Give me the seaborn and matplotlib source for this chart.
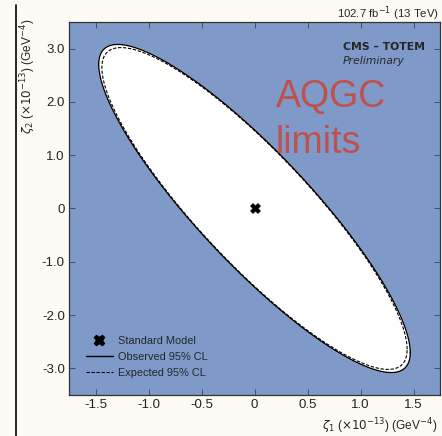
import numpy as np
import seaborn as sns
import matplotlib.pyplot as plt
from matplotlib.lines import Line2D

# contour extremes (units of 1e-13 GeV^-4)
obs_x_max = 1.47      # rightmost x of observed contour
obs_y_max = 3.08      # top y of observed contour
obs_x_at_top = -1.29  # x where observed contour is highest
exp_x_max = 1.44
exp_y_max = 3.02
exp_x_at_top = -1.26

sm_point = [0.0, 0.0]
x_ticks = [-1.5, -1.0, -0.5, 0.0, 0.5, 1.0, 1.5]
y_ticks = [-3.0, -2.0, -1.0, 0.0, 1.0, 2.0, 3.0]
x_tick_labels = ["-1.5", "-1.0", "-0.5", "0", "0.5", "1.0", "1.5"]
y_tick_labels = ["-3.0", "-2.0", "-1.0", "0", "1.0", "2.0", "3.0"]

BLUE = "#7f99c9"
CREAM = "#fdfbf3"
RED = "#c0504d"


def contour(x_max, y_max, x_top):
    # ellipse from its covariance-like matrix
    cov = np.array([[x_max ** 2, x_top * y_max], [x_top * y_max, y_max ** 2]])
    L = np.linalg.cholesky(cov)
    t = np.linspace(0, 2 * np.pi, 400)
    pts = L @ np.vstack([np.cos(t), np.sin(t)])
    return pts[0], pts[1]


sns.set_theme(style="white")
plt.rcParams["font.family"] = ["Liberation Sans", "DejaVu Sans"]
plt.rcParams["mathtext.fontset"] = "dejavusans"

fig = plt.figure(figsize=(4.42, 4.36), dpi=100, facecolor=CREAM)
ax = fig.add_axes([69 / 442, 1 - 395 / 436, 371 / 442, 373 / 436])
ax.set_facecolor(BLUE)

ox, oy = contour(obs_x_max, obs_y_max, obs_x_at_top)
ex, ey = contour(exp_x_max, exp_y_max, exp_x_at_top)

ax.fill(ox, oy, color="white", zorder=1)
sns.lineplot(x=ox, y=oy, sort=False, estimator=None, color="black", lw=1.0, ax=ax, zorder=3)
sns.lineplot(x=ex, y=ey, sort=False, estimator=None, color="black", lw=0.8,
             linestyle=(0, (3, 1.5)), ax=ax, zorder=3)
sns.scatterplot(x=[sm_point[0]], y=[sm_point[1]], marker="X", s=50, color="black",
                edgecolor="black", ax=ax, zorder=4)

ax.set_xlim(-1.75, 1.75)
ax.set_ylim(-3.5, 3.5)
ax.set_xticks(x_ticks)
ax.set_xticklabels(x_tick_labels)
ax.set_yticks(y_ticks)
ax.set_yticklabels(y_tick_labels)
ax.tick_params(direction="in", length=4, width=0.6, color="#444444", labelsize=9.5,
               labelcolor="#222222", top=True, right=True, bottom=True, left=True, pad=3)
for s in ax.spines.values():
    s.set_color("#333333")
    s.set_linewidth(0.9)
ax.set_xlabel("")
ax.set_ylabel("")

handles = [
    Line2D([], [], marker="X", color="black", ls="none", ms=7.5),
    Line2D([], [], color="black", lw=1.0),
    Line2D([], [], color="black", lw=0.8, ls=(0, (3, 1.5))),
]
ax.legend(handles, ["Standard Model", "Observed 95% CL", "Expected 95% CL"],
          loc="lower left", bbox_to_anchor=(0.02, 0.02), frameon=False,
          fontsize=7.9, handlelength=2.4, labelspacing=0.55, handletextpad=0.5)

ax.text((343 - 69) / 371, (395 - 50) / 373, "CMS \u2013 TOTEM",
        transform=ax.transAxes, fontsize=7.8, fontweight="bold",
        family="DejaVu Sans", va="baseline", ha="left")
ax.text((343 - 69) / 371, (395 - 64) / 373, "Preliminary", transform=ax.transAxes,
        fontsize=7.8, style="italic", family="DejaVu Sans", va="baseline", ha="left")
ax.text((276 - 69) / 371, (395 - 107) / 373, "AQGC", transform=ax.transAxes,
        fontsize=27, color=RED, va="baseline", ha="left")
ax.text((276 - 69) / 371, (395 - 153) / 373, "limits", transform=ax.transAxes,
        fontsize=27, color=RED, va="baseline", ha="left")

fig.text(439 / 442, 1 - 18 / 436, r"102.7 fb$^{-1}$ (13 TeV)", ha="right",
         va="baseline", fontsize=8.2)
fig.text(437 / 442, 1 - 430 / 436, r"$\zeta_1$ ($\times 10^{-13}$) (GeV$^{-4}$)",
         ha="right", va="baseline", fontsize=8.6)
fig.text(28 / 442, 1 - 19 / 436, r"$\zeta_2$ ($\times 10^{-13}$) (GeV$^{-4}$)",
         ha="center", va="top", rotation=90, fontsize=8.6)

fig.add_artist(Line2D([16 / 442, 16 / 442], [0, 1 - 5 / 436], color="black", lw=1.2))

fig.savefig("out.png", dpi=100, facecolor=CREAM)
